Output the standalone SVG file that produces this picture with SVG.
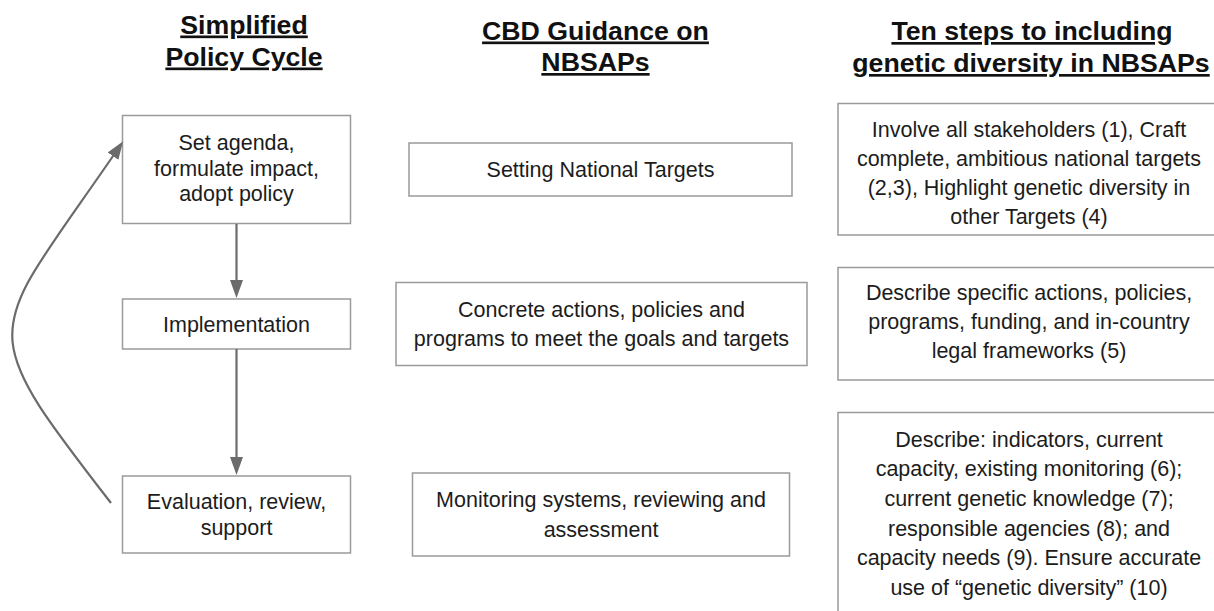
<svg xmlns="http://www.w3.org/2000/svg" width="1214" height="611" viewBox="0 0 1214 611">
  <style>
    .box { fill: #ffffff; stroke: #9a9a9a; stroke-width: 1.5; }
    .lbl { font-family: "Liberation Sans", Arial, sans-serif; font-size: 21.5px; fill: #1c1c1c; text-anchor: middle; }
    .hdr { font-family: "Liberation Sans", Arial, sans-serif; font-size: 26.7px; font-weight: bold; fill: #111111; text-anchor: middle; text-decoration: underline; }
    .conn { fill: none; stroke: #6b6b6b; stroke-width: 2.2; }
  </style>
  <defs>
    <marker id="arrow" markerUnits="userSpaceOnUse" markerWidth="18" markerHeight="14" viewBox="0 0 18 14" refX="8" refY="7" orient="auto">
      <path d="M0,0.5 L18,7 L0,13.5 z" fill="#6b6b6b"/>
    </marker>
  </defs>
  <rect width="1214" height="611" fill="#ffffff"/>

  <!-- column headings -->
  <g id="headings">
    <text class="hdr" x="244" y="33.5">Simplified</text>
    <text class="hdr" x="244" y="65.5">Policy Cycle</text>
    <text class="hdr" x="595.5" y="39.5">CBD Guidance on</text>
    <text class="hdr" x="595.5" y="71">NBSAPs</text>
    <text class="hdr" x="1032" y="40">Ten steps to including</text>
    <text class="hdr" x="1031" y="72">genetic diversity in NBSAPs</text>
  </g>

  <!-- policy cycle -->
  <g id="node-agenda">
    <rect class="box" x="122.5" y="115.5" width="228" height="108"/>
    <text class="lbl" x="236.5" y="150">Set agenda,</text>
    <text class="lbl" x="236.5" y="175.5">formulate impact,</text>
    <text class="lbl" x="236.5" y="201">adopt policy</text>
  </g>
  <g id="node-implementation">
    <rect class="box" x="122.5" y="299" width="228" height="50"/>
    <text class="lbl" x="236.5" y="331.7">Implementation</text>
  </g>
  <g id="node-evaluation">
    <rect class="box" x="122.5" y="476" width="228" height="77"/>
    <text class="lbl" x="236.5" y="509.3">Evaluation, review,</text>
    <text class="lbl" x="236.5" y="535">support</text>
  </g>

  <!-- CBD guidance -->
  <g id="node-targets">
    <rect class="box" x="409" y="143" width="383" height="53"/>
    <text class="lbl" x="600.5" y="176.5">Setting National Targets</text>
  </g>
  <g id="node-actions">
    <rect class="box" x="396" y="282.5" width="411" height="83"/>
    <text class="lbl" x="601.5" y="316.7">Concrete actions, policies and</text>
    <text class="lbl" x="601.5" y="345.7">programs to meet the goals and targets</text>
  </g>
  <g id="node-monitoring">
    <rect class="box" x="412.5" y="473" width="377" height="83"/>
    <text class="lbl" x="601" y="507">Monitoring systems, reviewing and</text>
    <text class="lbl" x="601" y="536.7">assessment</text>
  </g>

  <!-- ten steps -->
  <g id="node-steps-1-4">
    <rect class="box" x="838" y="103.5" width="390" height="131.5"/>
    <text class="lbl" x="1029" y="137.3">Involve all stakeholders (1), Craft</text>
    <text class="lbl" x="1029" y="166.2">complete, ambitious national targets</text>
    <text class="lbl" x="1029" y="195">(2,3), Highlight genetic diversity in</text>
    <text class="lbl" x="1029" y="223.5">other Targets (4)</text>
  </g>
  <g id="node-steps-5">
    <rect class="box" x="838" y="267.5" width="390" height="112.5"/>
    <text class="lbl" x="1029" y="300">Describe specific actions, policies,</text>
    <text class="lbl" x="1029" y="329.3">programs, funding, and in-country</text>
    <text class="lbl" x="1029" y="358.3">legal frameworks (5)</text>
  </g>
  <g id="node-steps-6-10">
    <rect class="box" x="838" y="412.5" width="390" height="220"/>
    <text class="lbl" x="1029" y="446.7">Describe: indicators, current</text>
    <text class="lbl" x="1029" y="476.2">capacity, existing monitoring (6);</text>
    <text class="lbl" x="1029" y="505.9">current genetic knowledge (7);</text>
    <text class="lbl" x="1029" y="535.6">responsible agencies (8); and</text>
    <text class="lbl" x="1029" y="565.3">capacity needs (9). Ensure accurate</text>
    <text class="lbl" x="1029" y="594.5">use of “genetic diversity” (10)</text>
  </g>

  <!-- connectors -->
  <g id="connectors">
    <path class="conn" d="M236.5,224 V288" marker-end="url(#arrow)"/>
    <path class="conn" d="M236.5,349 V465" marker-end="url(#arrow)"/>
    <path class="conn" d="M111,503 C-31,320 -12,339 117.5,149.5" marker-end="url(#arrow)"/>
  </g>
</svg>
